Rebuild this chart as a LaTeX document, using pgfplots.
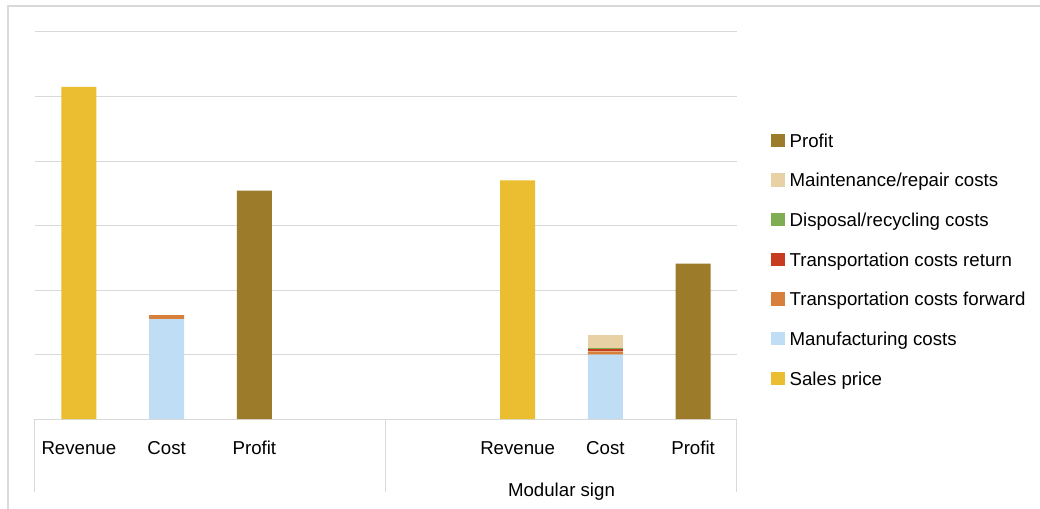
\documentclass[border=0pt]{standalone}
\usepackage{fontspec}
\setmainfont{Liberation Sans}
\usepackage{pgfplots}
\pgfplotsset{compat=1.18}
\definecolor{cSales}{HTML}{EBBD30}
\definecolor{cManuf}{HTML}{BFDDF5}
\definecolor{cFwd}{HTML}{D6803C}
\definecolor{cRet}{HTML}{C73C1E}
\definecolor{cDisp}{HTML}{7FAE52}
\definecolor{cMaint}{HTML}{E9D1A6}
\definecolor{cProfit}{HTML}{9C7B2A}
\definecolor{cGrid}{HTML}{D9D9D9}
\begin{document}
\begin{tikzpicture}[font=\fontsize{14}{16.8}\selectfont]
\path[use as bounding box] (-26.25pt,-66.75pt) rectangle (753.75pt,314.25pt);
\begin{axis}[
  scale only axis, width=526.5pt, height=290.25pt,
  ybar stacked, bar width=26.25pt,
  xmin=-0.5, xmax=7.5, ymin=0, ymax=6,
  ytick={0,1,2,3,4,5,6}, yticklabels={}, ymajorgrids,
  grid style={draw=cGrid, line width=0.75pt},
  axis line style={draw=none},
  xtick={0,1,2,5,6,7}, xticklabels={Revenue,Cost,Profit,Revenue,Cost,Profit},
  major tick length=0pt,
  x tick label style={anchor=base, yshift=-26.25pt, inner sep=0pt},
  clip=false,
  reverse legend,
  legend image code/.code={\fill[#1] (0pt,-3.75pt) rectangle (10.5pt,6.25pt);},
  legend style={at={(1,0)}, anchor=north west, xshift=25.5pt, yshift=214.5pt,
    draw=none, fill=none, inner sep=0pt, outer sep=0pt, row sep=16.25pt,
    font=\fontsize{14}{16.8}\selectfont,
    nodes={inner sep=0pt, text height=10.5pt, text depth=3pt},
    cells={anchor=west},
    /tikz/every odd column/.append style={column sep=3.5pt}},
]
\addplot[fill=cSales, draw=none] coordinates {(0,5.15) (1,0) (2,0) (3,0) (4,0) (5,3.70) (6,0) (7,0)};
\addplot[fill=cManuf, draw=none] coordinates {(0,0) (1,1.55) (2,0) (3,0) (4,0) (5,0) (6,1.00) (7,0)};
\addplot[fill=cFwd, draw=none] coordinates {(0,0) (1,0.06) (2,0) (3,0) (4,0) (5,0) (6,0.05) (7,0)};
\addplot[fill=cRet, draw=none] coordinates {(0,0) (1,0) (2,0) (3,0) (4,0) (5,0) (6,0.03) (7,0)};
\addplot[fill=cDisp, draw=none] coordinates {(0,0) (1,0) (2,0) (3,0) (4,0) (5,0) (6,0.015) (7,0)};
\addplot[fill=cMaint, draw=none] coordinates {(0,0) (1,0) (2,0) (3,0) (4,0) (5,0) (6,0.20) (7,0)};
\addplot[fill=cProfit, draw=none] coordinates {(0,0) (1,0) (2,3.54) (3,0) (4,0) (5,0) (6,0) (7,2.41)};
\legend{Sales price,Manufacturing costs,Transportation costs forward,Transportation costs return,Disposal/recycling costs,Maintenance/repair costs,Profit}
\draw[cGrid, line width=0.75pt] (axis cs:-0.5,0) -- ++(0pt,-54.75pt);
\draw[cGrid, line width=0.75pt] (axis cs:3.5,0) -- ++(0pt,-54.75pt);
\draw[cGrid, line width=0.75pt] (axis cs:7.5,0) -- ++(0pt,-54.75pt);
\node[anchor=base, inner sep=0pt] at (axis cs:5.5,0) [yshift=-57.75pt] {Modular sign};
\end{axis}
\draw[cGrid, line width=1.1pt] (-20.25pt,-80pt) -- (-20.25pt,309.75pt) -- (800pt,309.75pt);
\end{tikzpicture}
\end{document}
